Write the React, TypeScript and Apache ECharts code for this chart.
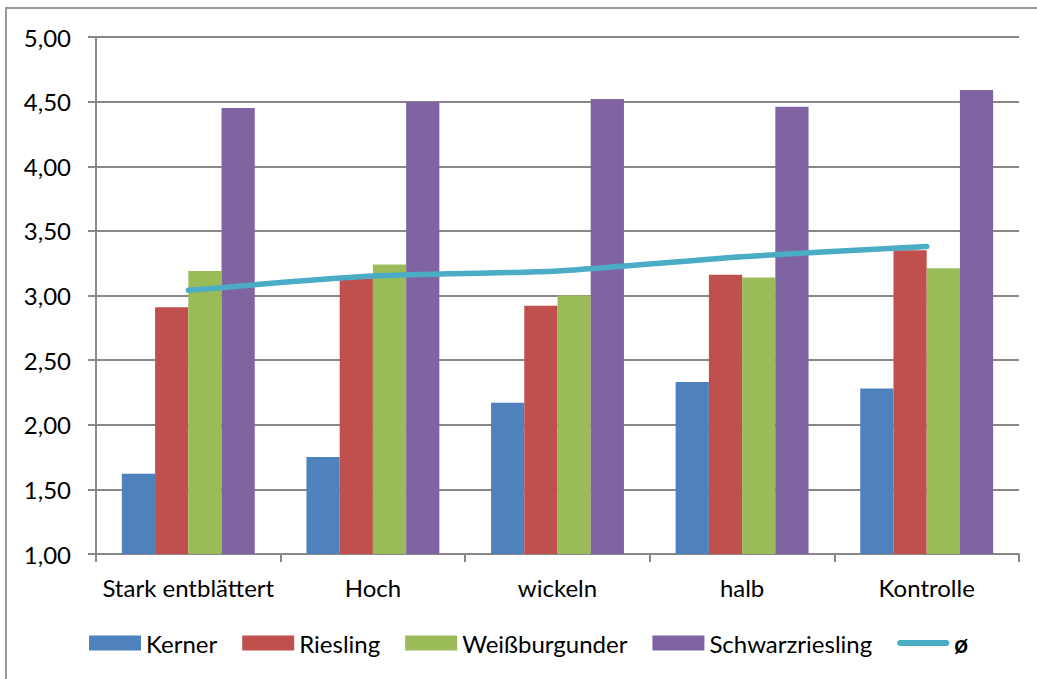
import React, { useEffect, useRef } from "react";
import * as echarts from "echarts";

const categories = ["Stark entblättert", "Hoch", "wickeln", "halb", "Kontrolle"];
const kerner = [1.62, 1.75, 2.17, 2.33, 2.28];
const riesling = [2.91, 3.13, 2.92, 3.16, 3.35];
const weissburgunder = [3.19, 3.24, 3.0, 3.14, 3.21];
const schwarzriesling = [4.45, 4.5, 4.52, 4.46, 4.59];
const average = [3.04, 3.15, 3.19, 3.3, 3.38];
const seriesNames = ["Kerner", "Riesling", "Weißburgunder", "Schwarzriesling", "ø"];
const colors = ["#4F81BD", "#C0504D", "#9BBB59", "#8064A2", "#4BACC6"];

const FONT = "Lato";
const FS = 24;

export default function App() {
  const ref = useRef<HTMLDivElement>(null);
  useEffect(() => {
    if (!ref.current) return;
    const chart = echarts.init(ref.current, undefined, { renderer: "svg" });
    const barData = [kerner, riesling, weissburgunder, schwarzriesling];
    chart.setOption({
      animation: false,
      color: colors,
      textStyle: { fontFamily: FONT },
      graphic: [
        {
          type: "rect",
          shape: { x: 6, y: 8, width: 1100, height: 700 },
          style: { fill: "none", stroke: "#999", lineWidth: 2 },
          silent: true,
        },
      ],
      grid: { left: 96, right: 18, top: 37, bottom: 125, containLabel: false },
      legend: {
        left: 84,
        top: 626,
        itemWidth: 52,
        itemHeight: 15,
        itemGap: 25,
        textStyle: { fontFamily: FONT, fontSize: FS, color: "#000" },
        data: [
          ...seriesNames.slice(0, 4).map((n) => ({ name: n, icon: "rect" })),
          {
            name: seriesNames[4],
            icon: "path://M3,0 H49 A3,3 0 0 1 49,6 H3 A3,3 0 0 1 3,0 Z",
            itemStyle: { color: colors[4] },
            textStyle: { fontWeight: "bold" },
          },
        ],
      },
      xAxis: {
        type: "category",
        data: categories,
        boundaryGap: true,
        axisLine: { lineStyle: { color: "#888", width: 2 } },
        axisTick: { show: true, length: 8, lineStyle: { color: "#888", width: 2 } },
        axisLabel: { color: "#000", fontSize: FS, fontFamily: FONT, margin: 21, interval: 0 },
      },
      yAxis: {
        type: "value",
        min: 1,
        max: 5,
        interval: 0.5,
        axisLine: { show: true, lineStyle: { color: "#888", width: 2 } },
        axisTick: { show: true, length: 8, lineStyle: { color: "#888", width: 2 } },
        splitLine: { show: true, lineStyle: { color: "#888", width: 2 } },
        axisLabel: {
          color: "#000",
          fontSize: FS,
          fontFamily: FONT,
          margin: 25,
          formatter: (v: number) => v.toFixed(2).replace(".", ","),
        },
      },
      series: [
        ...barData.map((d, i) => ({
          name: seriesNames[i],
          type: "bar",
          data: d,
          barGap: "0%",
          barCategoryGap: "28%",
          itemStyle: { color: colors[i] },
        })),
        {
          name: seriesNames[4],
          type: "line",
          data: average,
          smooth: 0.25,
          symbol: "none",
          lineStyle: { color: colors[4], width: 5.5, cap: "round" },
          itemStyle: { color: colors[4] },
          z: 5,
        },
      ],
    });
    return () => chart.dispose();
  }, []);
  return (
    <div style={{ position: "fixed", left: 0, top: 0, width: 1037, height: 679, background: "#fff" }}>
      <div ref={ref} style={{ width: 1037, height: 679 }} />
    </div>
  );
}
